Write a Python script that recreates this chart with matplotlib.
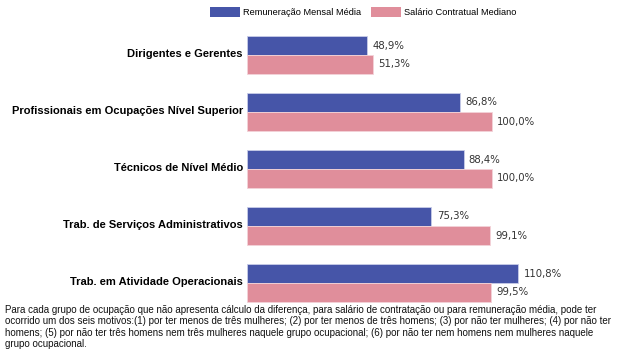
import matplotlib
matplotlib.use("Agg")
import matplotlib.pyplot as plt
import numpy as np
from matplotlib.patches import Patch

categories = [
    "Dirigentes e Gerentes",
    "Profissionais em Ocupações Nível Superior",
    "Técnicos de Nível Médio",
    "Trab. de Serviços Administrativos",
    "Trab. em Atividade Operacionais",
]
remuneracao = [48.9, 86.8, 88.4, 75.3, 110.8]
salario = [51.3, 100.0, 100.0, 99.1, 99.5]
series_names = ["Remuneração Mensal Média", "Salário Contratual Mediano"]

blue = "#4655A8"
pink = "#E08E9B"

W, H = 625, 354
fig = plt.figure(figsize=(W / 100, H / 100), dpi=100)
ax = fig.add_axes([247 / W, 1 - 311.5 / H, 294 / W, 285 / H])

y = np.arange(len(categories))
h = 19 / 57
b1 = ax.barh(y - h / 2, remuneracao, height=h, color=blue, edgecolor="#C8CCE8", linewidth=0.6)
b2 = ax.barh(y + h / 2, salario, height=h, color=pink, edgecolor="#F3D3D8", linewidth=0.6)

def fmt(v):
    return f"{v:.1f}".replace(".", ",") + "%"

for bars, vals in ((b1, remuneracao), (b2, salario)):
    for r, v in zip(bars, vals):
        ax.annotate(fmt(v), (r.get_width(), r.get_y() + r.get_height() / 2),
                    xytext=(3.8, 0), textcoords="offset points", va="center", ha="left",
                    fontsize=7.3, color="#333333", family="DejaVu Sans")

ax.set_xlim(0, 120)
ax.set_ylim(len(categories) - 0.5, -0.5)
ax.set_yticks(y - 0.03)
ax.set_yticklabels(categories, fontsize=8.0, fontweight="bold", family="Liberation Sans")
ax.tick_params(axis="y", length=0, pad=3)
ax.set_xticks([])
for s in ax.spines.values():
    s.set_visible(False)

handles = [Patch(facecolor=blue), Patch(facecolor=pink)]
fig.legend(handles, series_names, loc="upper right", bbox_to_anchor=(518 / W, 1 - 5 / H),
           ncol=2, frameon=False, prop={"family": "Liberation Sans", "size": 6.7},
           handlelength=3.2, handleheight=1.3, handletextpad=0.32, columnspacing=1.07,
           borderpad=0.2, borderaxespad=0)

note = ("Para cada grupo de ocupação que não apresenta cálculo da diferença, para salário de contratação ou para remuneração média, pode ter\n"
        "ocorrido um dos seis motivos:(1) por ter menos de três mulheres; (2) por ter menos de três homens; (3) por não ter mulheres; (4) por não ter\n"
        "homens; (5) por não ter três homens nem três mulheres naquele grupo ocupacional; (6) por não ter nem homens nem mulheres naquele\n"
        "grupo ocupacional.")
fig.text(5 / W, 1 - 305 / H, note, ha="left", va="top", fontsize=7.05,
         family="Liberation Sans", linespacing=1.16, color="#111111")

fig.savefig("out.png", dpi=100)
